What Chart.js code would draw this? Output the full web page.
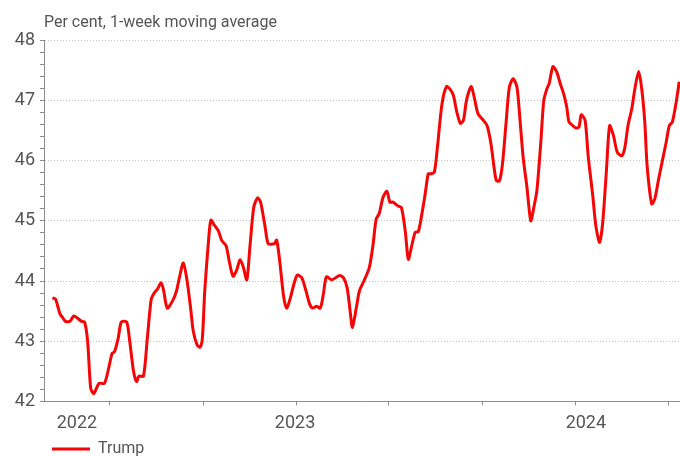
<!DOCTYPE html>
<html>
<head>
<meta charset="utf-8">
<script src="https://cdn.jsdelivr.net/npm/chart.js@4.4.0/dist/chart.umd.min.js"></script>
<style>
    html, body { margin: 0; padding: 0; background: #fff; }
    #wrap { width: 680px; height: 456px; }
</style>
</head>
<body>
<div id="wrap"><canvas id="chart"></canvas></div>
<script>
// days counted from 1 Jan 2022
const days = [46, 50, 53, 56, 59, 63, 69, 74, 79, 84, 88, 92, 96, 100, 107, 114, 120, 124, 127, 132,
    136, 143, 147, 152, 156, 159, 165, 170, 175, 179, 183, 188, 191, 196, 203, 208, 212, 217, 222, 227,
    230, 235, 239, 242, 245, 250, 253, 258, 263, 267, 273, 277, 282, 287, 291, 295, 300, 304, 309, 314,
    318, 324, 328, 336, 339, 343, 348, 352, 356, 362, 366, 372, 377, 382, 386, 391, 396, 400, 404, 411,
    421, 426, 431, 435, 438, 443, 447, 453, 460, 465, 469, 473, 478, 483, 487, 491, 497, 502, 507, 511,
    515, 520, 524, 528, 533, 537, 540, 545, 549, 555, 561, 566, 570, 574, 579, 583, 587, 593, 597, 602,
    609, 614, 619, 623, 626, 630, 634, 639, 643, 648, 653, 657, 661, 666, 671, 675, 679, 684, 688, 692,
    695, 700, 705, 710, 714, 718, 721, 726, 730, 734, 737, 742, 746, 752, 756, 761, 765, 770, 774, 779,
    784, 790, 794, 798, 803, 807, 812, 816, 820, 823, 829, 833, 838, 843, 848, 852, 856, 861, 865];

// Trump, per cent, 1-week moving average
const trump = [43.72, 43.70, 43.58, 43.45, 43.40, 43.33, 43.33, 43.42, 43.38, 43.33, 43.32, 43.00, 42.22, 42.13, 42.30, 42.30, 42.58, 42.80, 42.82, 43.05,
    43.32, 43.32, 43.00, 42.50, 42.33, 42.42, 42.42, 43.05, 43.69, 43.80, 43.86, 43.97, 43.86, 43.55, 43.67, 43.83, 44.06, 44.30, 44.00, 43.50,
    43.17, 42.94, 42.90, 43.06, 43.83, 44.67, 45.01, 44.92, 44.83, 44.68, 44.58, 44.33, 44.08, 44.19, 44.35, 44.25, 44.02, 44.56, 45.22, 45.38,
    45.31, 44.89, 44.62, 44.62, 44.68, 44.33, 43.75, 43.55, 43.68, 43.97, 44.10, 44.05, 43.85, 43.62, 43.55, 43.58, 43.55, 43.78, 44.07, 44.02,
    44.09, 44.06, 43.89, 43.50, 43.23, 43.55, 43.83, 44.00, 44.22, 44.61, 45.03, 45.12, 45.39, 45.49, 45.31, 45.31, 45.25, 45.22, 44.83, 44.36,
    44.56, 44.81, 44.82, 45.06, 45.44, 45.78, 45.78, 45.81, 46.22, 46.94, 47.23, 47.18, 47.08, 46.83, 46.62, 46.67, 47.00, 47.23, 47.06, 46.78,
    46.67, 46.58, 46.28, 45.89, 45.67, 45.66, 45.94, 46.67, 47.22, 47.36, 47.22, 46.67, 46.06, 45.56, 45.00, 45.22, 45.50, 46.28, 47.00, 47.19,
    47.28, 47.56, 47.47, 47.26, 47.11, 46.89, 46.64, 46.58, 46.54, 46.56, 46.76, 46.67, 46.08, 45.42, 44.92, 44.64, 44.97, 45.86, 46.58, 46.42,
    46.14, 46.08, 46.22, 46.58, 46.86, 47.19, 47.48, 47.19, 46.64, 45.92, 45.28, 45.36, 45.69, 46.00, 46.31, 46.58, 46.64, 46.97, 47.31];

// tick marks every four months (May, Sep, Jan)
const tickDays = [120, 243, 365, 485, 608, 730, 851];
// year labels and where they sit
const yearDays = [78, 363, 743];
const yearLabels = ['2022', '2023', '2024'];

const FONT = 'Roboto, "Noto Sans", sans-serif';
const TEXT = '#555555';
const AXIS = '#8c8c8c';
const GRID = '#c4c4c4';
const RED = '#f50505';

const isWhole = v => Math.abs(v - Math.round(v)) < 1e-6;

new Chart(document.getElementById('chart'), {
    type: 'line',
    data: {
        datasets: [{
            label: 'Trump',
            data: days.map((d, i) => ({ x: d, y: trump[i] })),
            borderColor: RED,
            backgroundColor: RED,
            borderWidth: 3,
            pointRadius: 0,
            tension: 0.25,
            fill: false
        }]
    },
    options: {
        responsive: true, maintainAspectRatio: false, animation: false,
        layout: { padding: { left: 0, right: 0, top: 0, bottom: -11 } },
        plugins: {
            title: {
                display: true, text: 'Per cent, 1-week moving average', align: 'start', fullSize: false,
                color: TEXT, font: { family: FONT, size: 16, weight: 'normal' },
                padding: { top: 13, bottom: 8 }
            },
            legend: {
                position: 'bottom', align: 'start', fullSize: false,
                labels: {
                    boxWidth: 38, boxHeight: 3, padding: 8, color: TEXT,
                    font: { family: FONT, size: 16 },
                    generateLabels: chart => chart.data.datasets.map((ds, i) => ({
                        text: ds.label, fillStyle: ds.borderColor, strokeStyle: ds.borderColor,
                        lineWidth: 0, hidden: false, datasetIndex: i, fontColor: TEXT
                    }))
                }
            },
            tooltip: { enabled: false }
        },
        scales: {
            x: {
                type: 'linear', min: 35, max: 866,
                afterBuildTicks: s => {
                    s.ticks = [...tickDays, ...yearDays].sort((a, b) => a - b).map(v => ({ value: v }));
                },
                afterFit: s => { s.height = 31.6; },
                grid: {
                    drawOnChartArea: false, tickLength: 4,
                    tickColor: c => (c.tick && tickDays.includes(c.tick.value)) ? AXIS : 'rgba(0,0,0,0)'
                },
                border: { color: AXIS },
                ticks: {
                    autoSkip: false, maxRotation: 0, padding: 7, color: TEXT,
                    font: { family: FONT, size: 18 },
                    callback: v => { const k = yearDays.indexOf(v); return k >= 0 ? yearLabels[k] : ''; }
                }
            },
            y: {
                min: 42, max: 48,
                afterFit: s => { s.width = 44; },
                ticks: {
                    stepSize: 0.2, maxTicksLimit: 40, autoSkip: false, padding: 5, color: TEXT,
                    font: { family: FONT, size: 18 },
                    callback: v => isWhole(v) ? Math.round(v) : ''
                },
                grid: {
                    color: c => (c.tick && isWhole(c.tick.value) && c.tick.value > 42) ? GRID : 'rgba(0,0,0,0)',
                    tickColor: AXIS, tickLength: 4
                },
                border: { color: AXIS, dash: [1, 2] }
            }
        }
    }
});
</script>
</body>
</html>
